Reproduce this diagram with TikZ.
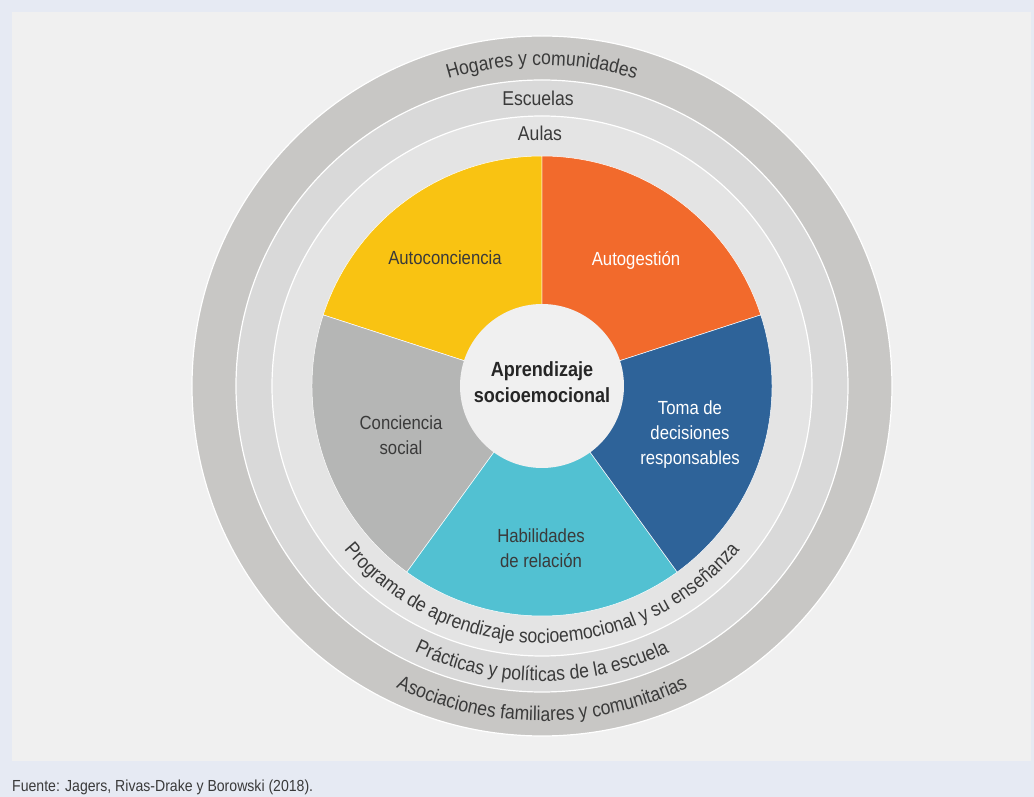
\documentclass[tikz,border=0pt]{standalone}
\usepackage{fontspec}
\setmainfont{Liberation Sans}[FakeStretch=0.88]
\usetikzlibrary{decorations.text}
\definecolor{selbg}{HTML}{E6EAF3}
\definecolor{selpanel}{HTML}{F0F0F0}
\definecolor{selringa}{HTML}{C8C7C5}
\definecolor{selringb}{HTML}{D9D9D9}
\definecolor{selringc}{HTML}{E4E4E4}
\definecolor{selyellow}{HTML}{F9C312}
\definecolor{selorange}{HTML}{F26A2C}
\definecolor{selblue}{HTML}{2E6399}
\definecolor{selcyan}{HTML}{52C1D2}
\definecolor{selgrey}{HTML}{B5B6B5}
\definecolor{seltext}{HTML}{3A3A3A}
\newcommand{\ringfont}{\fontsize{20}{20}\selectfont}

\begin{document}
\begin{tikzpicture}[x=1pt,y=1pt,
  seclabel/.style={font=\fontsize{19}{25}\selectfont, align=center, text=seltext},
  ringtext/.style={decorate, decoration={text along path, text align=center,
      text color=seltext, text={|\ringfont|#1}}}]
  % background and panel
  \fill[selbg] (-542,-411) rectangle (492,386);
  \fill[selpanel] (-530,374) rectangle (489,-375);
  \useasboundingbox (-542,-411) rectangle (492,386);
  % rings
  \filldraw[fill=selringa,draw=white,line width=1.2pt] (0,0) circle[radius=350];
  \filldraw[fill=selringb,draw=white,line width=1.2pt] (0,0) circle[radius=306];
  \filldraw[fill=selringc,draw=white,line width=1.2pt] (0,0) circle[radius=270];
  % sectors
  \filldraw[fill=selorange,draw=white,line width=0.5pt] (0,0) -- (18:230) arc[start angle=18,end angle=90,radius=230] -- cycle;
  \filldraw[fill=selyellow,draw=white,line width=0.5pt] (0,0) -- (90:230) arc[start angle=90,end angle=162,radius=230] -- cycle;
  \filldraw[fill=selgrey,draw=white,line width=0.5pt] (0,0) -- (162:230) arc[start angle=162,end angle=234,radius=230] -- cycle;
  \filldraw[fill=selcyan,draw=white,line width=0.5pt] (0,0) -- (234:230) arc[start angle=234,end angle=306,radius=230] -- cycle;
  \filldraw[fill=selblue,draw=white,line width=0.5pt] (0,0) -- (306:230) arc[start angle=306,end angle=378,radius=230] -- cycle;
  \fill[selpanel] (0,0) circle[radius=82];
  % sector labels
  \node[seclabel] (autoconc) at (-97,128) {Autoconciencia};
  \node[seclabel,text=white] (autogest) at (94,126) {Autogestión};
  \node[seclabel,text=white] (tomadec) at (148,-49) {Toma de\\decisiones\\responsables};
  \node[seclabel] (habrel) at (-1,-162) {Habilidades\\de relación};
  \node[seclabel] (concsoc) at (-141,-49) {Conciencia\\social};
  \node[seclabel,font=\fontsize{20.5}{26}\selectfont\bfseries,text=black!85] (centro) at (0,4) {Aprendizaje\\socioemocional};
  % ring labels
  \path[ringtext={Hogares y comunidades}] (130:321) arc[start angle=130,end angle=50,radius=321];
  \node[seclabel,font=\fontsize{20}{25}\selectfont] (escuelas) at (-4,288) {Escuelas};
  \node[seclabel,font=\fontsize{20}{25}\selectfont] (aulas) at (-2,253) {Aulas};
  \path[ringtext={Programa de aprendizaje socioemocional y su enseñanza}] (200:257) arc[start angle=200,end angle=340,radius=257];
  \path[ringtext={Prácticas y políticas de la escuela}] (220:295) arc[start angle=220,end angle=320,radius=295];
  \path[ringtext={Asociaciones familiares y comunitarias}] (220:335) arc[start angle=220,end angle=320,radius=335];
  % source
  \node[anchor=base west,inner sep=0pt,font=\fontsize{16}{18}\selectfont,text=seltext] (fuente) at (-530,-405) {Fuente: Jagers, Rivas-Drake y Borowski (2018).};
\end{tikzpicture}
\end{document}
